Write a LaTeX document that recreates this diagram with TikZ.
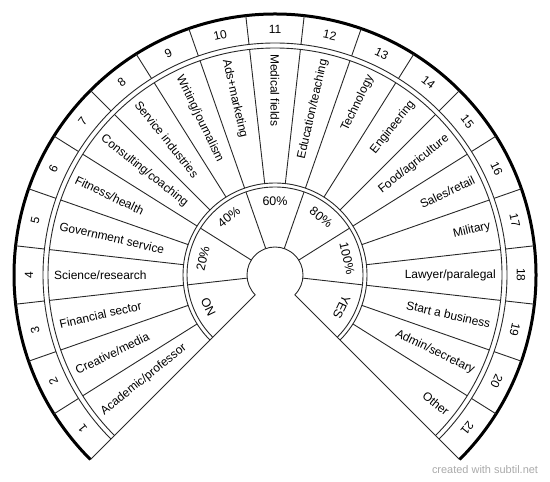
\documentclass[tikz,border=0pt]{standalone}
\usepackage{fontspec}
\setmainfont{Liberation Sans}
\usepackage{xcolor}
\usepackage{tikz}
\definecolor{LineaCarta}{RGB}{40,40,40}
\definecolor{GrisMarca}{RGB}{170,170,170}

\begin{document}
\begin{tikzpicture}[x=1bp,y=1bp,
    rim/.style={line width=0.9bp,draw=LineaCarta},
    itemtext/.style={inner sep=0pt,font=\fontsize{12}{14}\selectfont},
    numtext/.style={inner sep=0pt,font=\fontsize{12}{14}\selectfont},
    pcttext/.style={inner sep=0pt,font=\fontsize{12.5}{14}\selectfont}]
  \useasboundingbox (0,0) rectangle (550,482);
  \begin{scope}[shift={(275,207)}]
    \coordinate (C) at (0,0);
    % rings
    \draw[line width=3bp] (-45:261) arc[start angle=-45,end angle=225,radius=261];
    \foreach \r in {232,227,92,88,28}
      \draw[rim] (-45:\r) arc[start angle=-45,end angle=225,radius=\r];
    \draw[rim] (225:28) -- (225:261);
    \draw[rim] (-45:28) -- (-45:261);
    % item sectors
    \foreach \k in {1,...,20} {
      \pgfmathsetmacro\a{225-\k*270/21}
      \draw[rim] (\a:92) -- (\a:227) (\a:232) -- (\a:261);
    }
    \foreach \txt [count=\i] in {Academic/professor,Creative/media,Financial sector,
        Science/research,Government service,Fitness/health,Consulting/coaching,
        Service industries,Writing/journalism,Ads+marketing,Medical fields,
        Education/teaching,Technology,Engineering,Food/agriculture,Sales/retail,
        Military,Lawyer/paralegal,Start a business,Admin/secretary,Other} {
      \pgfmathsetmacro\a{225-(\i-0.5)*270/21}
      \node[numtext,rotate=\a-90] (n\i) at (\a:246) {\i};
      \ifnum\i<12
        \node[itemtext,rotate=\a+180,anchor=west] (t\i) at (\a:221) {\txt};
      \else
        \node[itemtext,rotate=\a,anchor=east] (t\i) at (\a:221) {\txt};
      \fi
    }
    % answer sectors
    \foreach \k in {1,...,6} {
      \pgfmathsetmacro\a{225-\k*270/7}
      \draw[rim] (\a:28) -- (\a:88);
    }
    \foreach \txt [count=\j] in {NO,20\%,40\%,60\%,80\%,100\%,YES} {
      \pgfmathsetmacro\a{225-(\j-0.5)*270/7}
      \node[pcttext,rotate=\a-90] (p\j) at (\a:74) {\txt};
    }
  \end{scope}
  \node[GrisMarca,font=\fontsize{11}{13}\selectfont] (marca) at (485,12) {created with subtil.net};
\end{tikzpicture}
\end{document}
